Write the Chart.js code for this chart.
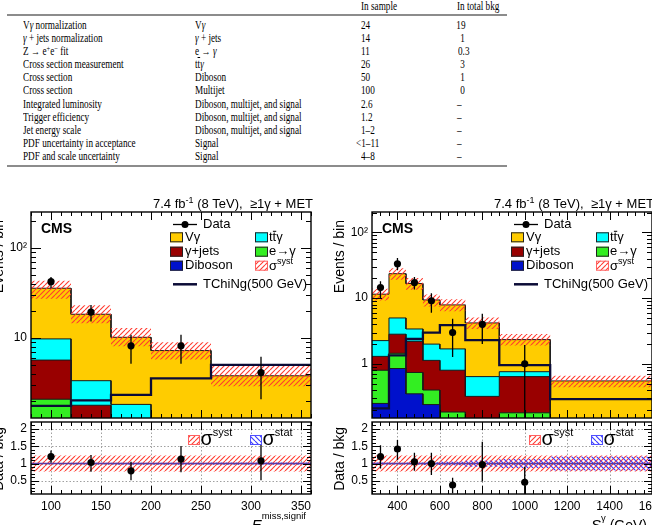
<!DOCTYPE html>
<html><head><meta charset="utf-8">
<script src="https://cdn.jsdelivr.net/npm/chart.js@4.4.1/dist/chart.umd.min.js"></script>
<style>
html,body{margin:0;padding:0;width:652px;height:525px;overflow:hidden;background:#fff;}
body{position:relative;}
canvas{position:absolute;}
#tbl{position:absolute;left:0;top:0;width:652px;height:175px;font-family:"Liberation Serif","Times New Roman",serif;font-size:11.5px;color:#000;}
.t{position:absolute;white-space:nowrap;line-height:13px;transform-origin:0 50%;transform:scaleX(0.8);}
.tr{position:absolute;white-space:nowrap;line-height:13px;transform-origin:100% 50%;transform:scaleX(0.8);text-align:right;}
.rule{position:absolute;left:7px;width:500px;height:1.5px;background:#8c8c8c;}
sup{font-size:8px;vertical-align:4px;line-height:0;}
.ol{text-decoration:overline;}
</style>
</head><body>
<div id="tbl"><div class="rule" style="top:14px"></div><div class="rule" style="top:165px"></div></div>
<canvas id="lm" width="372" height="237" style="left:-40px;top:185px"></canvas>
<canvas id="lr" width="372" height="109" style="left:-40px;top:416px"></canvas>
<canvas id="rm" width="372" height="237" style="left:301px;top:185px"></canvas>
<canvas id="rr" width="372" height="109" style="left:301px;top:416px"></canvas>
<script>
// ================= TABLE TEXT =================
const tableHeader = ['In sample', 'In total bkg'];
const tableSource = ['V<i>γ</i> normalization', '<i>γ</i> + jets normalization', 'Z → e<sup>+</sup>e<sup>−</sup> fit',
  'Cross section measurement', 'Cross section', 'Cross section', 'Integrated luminosity', 'Trigger efficiency',
  'Jet energy scale', 'PDF uncertainty in acceptance', 'PDF and scale uncertainty'];
const tableSample = ['V<i>γ</i>', '<i>γ</i> + jets', 'e → <i>γ</i>', 't<span class="ol">t</span><i>γ</i>', 'Diboson', 'Multijet',
  'Diboson, multijet, and signal', 'Diboson, multijet, and signal', 'Diboson, multijet, and signal', 'Signal', 'Signal'];
const tableInSample = ['24', '14', '11', '26', '50', '100', '2.6', '1.2', '1–2', '<1–11', '4–8'];
const tableInBkg = ['19', '1', '0.3', '3', '1', '0', '–', '–', '–', '–', '–'];

// ================= LEFT PANEL DATA (E_T^miss,signif) =================
const leftBinEdges = [80, 120, 160, 200, 260, 360];
const leftDiboson = [0.3, 0.2, 0.2, 0.15, 0.1];
const leftEtoG    = [1.8, 0.5, 0.3, 0.2, 0.1];
const leftGJets   = [3.6, 1.1, 0.5, 0.35, 0.3];
const leftTTG     = [4.1, 1.57, 0.84, 0.4, 0.3];
const leftVG      = [25.9, 15.0, 8.36, 6.17, 3.02];
const leftSystLo  = [27.3, 14.6, 8.1, 5.8, 2.93];
const leftSystHi  = [43.3, 23.1, 12.9, 9.0, 5.0];
const leftSignal  = [1.77, 2.04, 2.35, 3.57, 5.04];
const leftDataX   = [100, 140, 180, 230, 310];
const leftData    = [42.2, 19.4, 8.2, 8.2, 4.15];
const leftDataLo  = [35.7, 15.3, 5.2, 5.2, 2.1];
const leftDataHi  = [47.7, 23.3, 10.9, 10.9, 6.2];
const leftRatio   = [1.2, 1.03, 0.79, 1.13, 1.08];
const leftRatioLo = [1.02, 0.76, 0.52, 0.75, 0.52];
const leftRatioHi = [1.38, 1.25, 1.05, 1.51, 1.82];
const leftRatioSystLo = [0.77, 0.77, 0.77, 0.77, 0.77];
const leftRatioSystHi = [1.23, 1.23, 1.23, 1.23, 1.23];
const leftRatioStatLo = [0.985, 0.98, 0.975, 0.975, 0.97];
const leftRatioStatHi = [1.015, 1.02, 1.025, 1.025, 1.03];
const leftXTicks = [100, 150, 200, 250, 300, 350];
const leftMainYTicks = [10, 100];
const leftMainYLabels = ['10', '10²'];

// ================= RIGHT PANEL DATA (S_T^gamma) =================
const rightBinEdges = [280, 360, 440, 520, 600, 720, 880, 1120, 1600];
const rightDiboson = [0.25, 0.85, 0.35, 0.24, 0.10, 0.08, 0.08, 0.05];
const rightEtoG    = [0.55, 0.60, 0.39, 0.16, 0.085, 0.05, 0.10, 0.04];
const rightGJets   = [0.50, 1.38, 1.46, 0.73, 0.615, 0.19, 0.46, 0.03];
const rightTTG     = [0.96, 2.17, 1.20, 0.87, 0.89, 0.32, 0.12, 0.02];
const rightVG      = [9.24, 18.6, 13.3, 7.4, 6.21, 3.56, 1.58, 0.41];
const rightSystLo  = [9.2, 19.0, 13.4, 7.5, 6.3, 3.4, 1.9, 0.44];
const rightSystHi  = [13.9, 28.5, 20.2, 11.4, 9.6, 5.1, 2.85, 0.66];
const rightSignal  = [0.21, 1.35, 2.39, 3.0, 3.9, 2.3, 0.96, 0.29];
const rightDataX   = [320, 400, 480, 560, 660, 800, 1000];
const rightData    = [14.5, 33.3, 17.3, 9.1, 3.0, 4.0, 1.0];
const rightDataLo  = [10.0, 26.5, 13.6, 6.0, 1.27, 2.0, 0.1];
const rightDataHi  = [18.1, 40.9, 21.0, 11.9, 4.86, 5.8, 1.94];
const rightRatio   = [1.2, 1.42, 1.05, 1.0, 0.38, 0.97, 0.46];
const rightRatioLo = [0.86, 1.1, 0.79, 0.67, 0.14, 0.48, 0.05];
const rightRatioHi = [1.53, 1.68, 1.31, 1.31, 0.59, 1.63, 0.91];
const rightRatioSystLo = [0.77, 0.77, 0.77, 0.77, 0.77, 0.77, 0.77, 0.77];
const rightRatioSystHi = [1.23, 1.23, 1.23, 1.23, 1.23, 1.23, 1.23, 1.23];
const rightRatioStatLo = [0.97, 0.975, 0.97, 0.96, 0.94, 0.91, 0.87, 0.8];
const rightRatioStatHi = [1.03, 1.025, 1.03, 1.04, 1.06, 1.09, 1.13, 1.2];
const rightXTicks = [400, 600, 800, 1000, 1200, 1400, 1600];
const rightMainYTicks = [1, 10, 100];
const rightMainYLabels = ['1', '10', '10²'];

const ratioYTicks = [0.5, 1, 1.5, 2];
const ratioYLabels = ['0.5', '1', '1.5', '2'];

// ================= TABLE BUILD =================
(function () {
  const tb = document.getElementById('tbl');
  const add = (html, x, yc, cls) => {
    const d = document.createElement('div'); d.className = cls || 't'; d.innerHTML = html;
    d.style.top = (yc - 6.5) + 'px';
    if (cls === 'tr') { d.style.right = (652 - x) + 'px'; } else { d.style.left = x + 'px'; }
    tb.appendChild(d);
  };
  add(tableHeader[0], 361, 6.7); add(tableHeader[1], 457, 6.7);
  for (let i = 0; i < tableSource.length; i++) {
    const yc = 25 + i * 13.17;
    add(tableSource[i], 23, yc);
    add(tableSample[i], 195, yc);
    const s = tableInSample[i];
    add(s, s.startsWith('<') ? 356 : 361, yc);
    const b = tableInBkg[i];
    if (b.includes('.')) add(b, 458, yc);
    else if (b === '–') add(b, 457, yc);
    else add(b, 465, yc, 'tr');
  }
})();

// ================= CHART HELPERS =================
const FONT = '"Liberation Sans", Arial, Helvetica, sans-serif';
const C_VG = '#ffcc00', C_TT = '#00ffff', C_GJ = '#990000', C_EG = '#33ee22', C_DB = '#0011cc', C_SIG = '#0b0b36';

function hatch(color, dir) {
  const s = 5, c = document.createElement('canvas'); c.width = c.height = s;
  const g = c.getContext('2d');
  g.strokeStyle = color; g.lineWidth = 1.1;
  g.beginPath();
  for (const o of [-s, 0, s]) {
    if (dir > 0) { g.moveTo(o, s); g.lineTo(o + s, 0); } else { g.moveTo(o, 0); g.lineTo(o + s, s); }
  }
  g.stroke();
  return g.createPattern(c, 'repeat');
}
const HATCH_RED = hatch('#ff3b30', 1);
const HATCH_BLUE = hatch('#3a3aff', -1);

function histPts(edges, vals) {
  const p = [];
  for (let i = 0; i < vals.length; i++) p.push({x: edges[i], y: vals[i]}, {x: edges[i + 1], y: vals[i]});
  return p;
}
function bandPts(edges, lo, hi) { return histPts(edges, hi).concat(histPts(edges, lo).reverse()); }
function cumulative(...arrs) { return arrs[0].map((_, i) => arrs.reduce((s, a) => s + a[i], 0)); }
function errPts(xs, lo, hi) { const p = []; xs.forEach((x, i) => p.push({x, y: lo[i]}, {x, y: hi[i]}, {x, y: null})); return p; }
function range(a, b, st) { const r = []; for (let v = a; v <= b + 1e-9; v += st) r.push(+v.toFixed(6)); return r; }
function logTicks(min, max) {
  const maj = [], min_ = [];
  for (let e = -2; e <= 3; e++) for (let m = 1; m <= 9; m++) {
    const v = m * Math.pow(10, e);
    if (v < min || v > max) continue;
    (m === 1 ? maj : min_).push(v);
  }
  return [maj, min_];
}

function drawRich(ctx, parts, x, y, align) {
  let w = 0;
  for (const p of parts) { ctx.font = p.f; w += ctx.measureText(p.t).width; }
  let cx = align === 'right' ? x - w : x;
  ctx.textAlign = 'left'; ctx.textBaseline = 'alphabetic';
  for (const p of parts) { ctx.font = p.f; ctx.fillText(p.t, cx, y + (p.dy || 0)); cx += ctx.measureText(p.t).width; }
}

function decor(o) {
  return {
    id: 'decor',
    beforeDatasetsDraw(chart) {
      if (!o.grid) return;
      const {ctx, chartArea: a, scales: {x, y}} = chart;
      ctx.save(); ctx.strokeStyle = '#a0a0a0'; ctx.lineWidth = 1; ctx.setLineDash([1.5, 2]);
      for (const v of o.xMajor) {
        const p = Math.round(x.getPixelForValue(v)) + 0.5;
        if (p > a.left + 2 && p < a.right - 2) { ctx.beginPath(); ctx.moveTo(p, a.top); ctx.lineTo(p, a.bottom); ctx.stroke(); }
      }
      for (const v of o.yMajor) {
        const p = Math.round(y.getPixelForValue(v)) + 0.5;
        if (p > a.top + 2 && p < a.bottom - 2) { ctx.beginPath(); ctx.moveTo(a.left, p); ctx.lineTo(a.right, p); ctx.stroke(); }
      }
      ctx.restore();
    },
    afterDraw(chart) {
      const {ctx, chartArea: a, scales: {x, y}} = chart;
      ctx.save();
      ctx.strokeStyle = '#000'; ctx.lineWidth = 1; ctx.beginPath();
      const xt = (vals, len) => { for (const v of vals) { if (v < x.min || v > x.max) continue; const p = Math.round(x.getPixelForValue(v)) + 0.5; ctx.moveTo(p, a.bottom); ctx.lineTo(p, a.bottom - len); ctx.moveTo(p, a.top); ctx.lineTo(p, a.top + len); } };
      const yt = (vals, len) => { for (const v of vals) { if (v < y.min || v > y.max) continue; const p = Math.round(y.getPixelForValue(v)) + 0.5; ctx.moveTo(a.left, p); ctx.lineTo(a.left + len, p); ctx.moveTo(a.right, p); ctx.lineTo(a.right - len, p); } };
      xt(o.xMajor, o.xl[0]); xt(o.xMinor, o.xl[1]);
      yt(o.yMajor, o.yl[0]); yt(o.yMinor, o.yl[1]);
      ctx.stroke();
      ctx.lineWidth = 1.4;
      ctx.strokeRect(a.left, a.top, a.right - a.left, a.bottom - a.top);
      ctx.fillStyle = '#000';
      o.text(ctx, a);
      ctx.restore();
    }
  };
}

function yTitle(ctx, a, txt, topOff) {
  ctx.save();
  ctx.translate(a.left - 31.7, a.top + topOff);
  ctx.rotate(-Math.PI / 2);
  ctx.font = `14px ${FONT}`; ctx.textAlign = 'right'; ctx.textBaseline = 'middle'; ctx.fillStyle = '#000';
  ctx.fillText(txt, 0, 0);
  ctx.restore();
}

function mainText(ctx, a) {
  drawRich(ctx, [{t: '7.4 fb', f: `13px ${FONT}`}, {t: '-1', f: `9px ${FONT}`, dy: -5},
    {t: ' (8 TeV),  \u22651\u03b3 + MET', f: `13px ${FONT}`}], a.right + 2, a.top - 4, 'right');
  ctx.font = `bold 14px ${FONT}`; ctx.textAlign = 'left'; ctx.textBaseline = 'alphabetic';
  ctx.fillText('CMS', a.left + 10, a.top + 21);
  yTitle(ctx, a, 'Events / bin', 8);
  const L = a.left, T = a.top;
  ctx.font = `13px ${FONT}`; ctx.textBaseline = 'middle'; ctx.textAlign = 'left';
  // Data
  let yy = T + 12.5;
  ctx.lineWidth = 1.3; ctx.strokeStyle = '#000';
  ctx.beginPath(); ctx.moveTo(L + 142, yy); ctx.lineTo(L + 166, yy); ctx.stroke();
  ctx.beginPath(); ctx.arc(L + 154, yy, 3.5, 0, Math.PI * 2); ctx.fill();
  ctx.fillText('Data', L + 172, yy);
  const box = (bx, by, fill, stroke) => {
    ctx.fillStyle = fill; ctx.fillRect(bx, by - 5, 13, 10);
    ctx.strokeStyle = stroke; ctx.lineWidth = 1; ctx.strokeRect(bx + 0.5, by - 4.5, 12, 9);
    ctx.fillStyle = '#000';
  };
  const rows = [T + 25.3, T + 39.7, T + 53.7];
  box(L + 139, rows[0], C_VG, '#222'); ctx.fillText('V\u03b3', L + 154, rows[0]);
  box(L + 139, rows[1], C_GJ, '#222'); ctx.fillText('\u03b3+jets', L + 154, rows[1]);
  box(L + 139, rows[2], C_DB, '#222'); ctx.fillText('Diboson', L + 154, rows[2]);
  box(L + 224, rows[0], C_TT, '#222');
  ctx.fillText('tt\u03b3', L + 238, rows[0]);
  { const w1 = ctx.measureText('t').width, w2 = ctx.measureText('tt').width;
    ctx.fillRect(L + 238 + w1 + 0.3, rows[0] - 6.5, w2 - w1 - 0.3, 1); }
  box(L + 224, rows[1], C_EG, '#222'); ctx.fillText('e\u2192\u03b3', L + 238, rows[1]);
  ctx.fillStyle = '#fff'; ctx.fillRect(L + 224, rows[2] - 5, 13, 10);
  box(L + 224, rows[2], HATCH_RED, '#ff6060');
  ctx.textBaseline = 'middle'; ctx.font = `13px ${FONT}`; ctx.fillText('\u03c3', L + 238, rows[2] + 1);
  ctx.font = `9px ${FONT}`; ctx.fillText('syst', L + 246, rows[2] - 4);
  // signal
  yy = T + 72.3;
  ctx.strokeStyle = C_SIG; ctx.lineWidth = 2.5;
  ctx.beginPath(); ctx.moveTo(L + 142, yy); ctx.lineTo(L + 166, yy); ctx.stroke();
  ctx.font = `13px ${FONT}`; ctx.fillText('TChiNg(500 GeV)', L + 172, yy);
}

function ratioText(xTitleParts) {
  return (ctx, a) => {
    yTitle(ctx, a, 'Data / bkg', 5);
    const L = a.left, T = a.top;
    ctx.fillStyle = '#fff'; ctx.fillRect(L + 157, T + 13, 12, 10);
    ctx.fillStyle = HATCH_RED; ctx.fillRect(L + 157, T + 13, 12, 10);
    ctx.strokeStyle = '#ff6060'; ctx.lineWidth = 1; ctx.strokeRect(L + 157.5, T + 13.5, 11, 9);
    ctx.fillStyle = '#fff'; ctx.fillRect(L + 219, T + 13, 12, 10);
    ctx.fillStyle = HATCH_BLUE; ctx.fillRect(L + 219, T + 13, 12, 10);
    ctx.strokeStyle = '#5050ff'; ctx.strokeRect(L + 219.5, T + 13.5, 11, 9);
    ctx.fillStyle = '#000';
    drawRich(ctx, [{t: '\u03c3', f: `20px ${FONT}`}, {t: 'syst', f: `11px ${FONT}`, dy: -9}], L + 169.5, T + 23, 'left');
    drawRich(ctx, [{t: '\u03c3', f: `20px ${FONT}`}, {t: 'stat', f: `11px ${FONT}`, dy: -9}], L + 231.5, T + 23, 'left');
    drawRich(ctx, xTitleParts, a.right - 5, a.bottom + 36, 'right');
  };
}

function baseOpts(pad) {
  return {responsive: false, animation: false, devicePixelRatio: 1, events: [],
    layout: {padding: pad}, plugins: {legend: {display: false}, tooltip: {enabled: false}}};
}
const tickFont = {family: FONT, size: 12};
const fitY = s => { s.width = 71; s.paddingTop = 0; s.paddingBottom = 0; };
const fitX = s => { s.height = 31; s.paddingLeft = 0; s.paddingRight = 0; };

function buildMain(id, c) {
  const cumDB = c.db, cumEG = cumulative(c.db, c.eg), cumGJ = cumulative(c.db, c.eg, c.gj),
        cumTT = cumulative(c.db, c.eg, c.gj, c.tt), cumVG = cumulative(c.db, c.eg, c.gj, c.tt, c.vg);
  const area = (v, col) => ({data: histPts(c.edges, v), backgroundColor: col, borderColor: '#1a1a1a', borderWidth: 1, fill: 'start', pointRadius: 0, tension: 0});
  const [yMaj, yMin] = logTicks(c.ymin, c.ymax);
  const opts = baseOpts({left: 0, right: 21, top: 27, bottom: 0});
  opts.scales = {
    x: {type: 'linear', min: c.xmin, max: c.xmax, display: false},
    y: {type: 'logarithmic', min: c.ymin, max: c.ymax,
      afterFit: fitY,
      afterBuildTicks: s => { s.ticks = c.yTicks.map(v => ({value: v})); },
      ticks: {callback: v => { const i = c.yTicks.indexOf(v); return i >= 0 ? c.yLabels[i] : ''; }, font: tickFont, color: '#000', padding: 4, autoSkip: false},
      grid: {display: false, drawTicks: false}, border: {display: false}}
  };
  new Chart(document.getElementById(id), {
    type: 'line',
    data: {datasets: [
      {data: c.dataX.map((x, i) => ({x, y: c.data[i]})), showLine: false, pointRadius: 3.6, pointBackgroundColor: '#000', pointBorderWidth: 0},
      {data: errPts(c.dataX, c.dataLo, c.dataHi), borderColor: '#000', borderWidth: 1.3, pointRadius: 0, fill: false, spanGaps: false},
      {data: histPts(c.edges, c.sig), borderColor: C_SIG, borderWidth: 2.3, pointRadius: 0, fill: false},
      {data: bandPts(c.edges, c.systLo, c.systHi), backgroundColor: HATCH_RED, borderWidth: 0, borderColor: 'rgba(0,0,0,0)', fill: 'shape', pointRadius: 0},
      area(cumDB, C_DB), area(cumEG, C_EG), area(cumGJ, C_GJ), area(cumTT, C_TT), area(cumVG, C_VG)
    ]},
    options: opts,
    plugins: [decor({xMajor: c.xTicks, xMinor: c.xMinor, yMajor: yMaj, yMinor: yMin, xl: [8, 4], yl: [10, 5], text: mainText})]
  });
}

function buildRatio(id, c) {
  const opts = baseOpts({left: 0, right: 21, top: 6, bottom: 0});
  opts.scales = {
    x: {type: 'linear', min: c.xmin, max: c.xmax,
      afterFit: fitX,
      afterBuildTicks: s => { s.ticks = c.xTicks.map(v => ({value: v})); },
      ticks: {callback: v => String(v), font: tickFont, color: '#000', padding: 5, maxRotation: 0, autoSkip: false},
      grid: {display: false, drawTicks: false}, border: {display: false}},
    y: {type: 'linear', min: 0.12, max: 2.2,
      afterFit: fitY,
      afterBuildTicks: s => { s.ticks = ratioYTicks.map(v => ({value: v})); },
      ticks: {callback: v => { const i = ratioYTicks.indexOf(v); return i >= 0 ? ratioYLabels[i] : ''; }, font: tickFont, color: '#000', padding: 4, autoSkip: false},
      grid: {display: false, drawTicks: false}, border: {display: false}}
  };
  const e0 = c.edges[0], e1 = c.edges[c.edges.length - 1];
  new Chart(document.getElementById(id), {
    type: 'line',
    data: {datasets: [
      {data: c.dataX.map((x, i) => ({x, y: c.ratio[i]})), showLine: false, pointRadius: 3.6, pointBackgroundColor: '#000', pointBorderWidth: 0},
      {data: errPts(c.dataX, c.ratioLo, c.ratioHi), borderColor: '#000', borderWidth: 1.3, pointRadius: 0, fill: false, spanGaps: false},
      {data: [{x: e0, y: 1}, {x: e1, y: 1}], borderColor: '#5a3aa8', borderWidth: 1.6, pointRadius: 0, fill: false},
      {data: bandPts(c.edges, c.statLo, c.statHi), backgroundColor: HATCH_BLUE, borderWidth: 0, borderColor: 'rgba(0,0,0,0)', fill: 'shape', pointRadius: 0},
      {data: bandPts(c.edges, c.systLo, c.systHi), backgroundColor: HATCH_RED, borderWidth: 0, borderColor: 'rgba(0,0,0,0)', fill: 'shape', pointRadius: 0}
    ]},
    options: opts,
    plugins: [decor({grid: true, xMajor: c.xTicks, xMinor: c.xMinor, yMajor: ratioYTicks, yMinor: range(0.2, 2.1, 0.1), xl: [8, 4], yl: [8, 4], text: ratioText(c.xTitle)})]
  });
}

// ----- left -----
buildMain('lm', {edges: leftBinEdges, db: leftDiboson, eg: leftEtoG, gj: leftGJets, tt: leftTTG, vg: leftVG,
  systLo: leftSystLo, systHi: leftSystHi, sig: leftSignal, dataX: leftDataX, data: leftData, dataLo: leftDataLo, dataHi: leftDataHi,
  xmin: 80, xmax: 360, ymin: 1.3, ymax: 250, yTicks: leftMainYTicks, yLabels: leftMainYLabels,
  xTicks: leftXTicks, xMinor: range(80, 360, 10)});
buildRatio('lr', {edges: leftBinEdges, dataX: leftDataX, ratio: leftRatio, ratioLo: leftRatioLo, ratioHi: leftRatioHi,
  systLo: leftRatioSystLo, systHi: leftRatioSystHi, statLo: leftRatioStatLo, statHi: leftRatioStatHi,
  xmin: 80, xmax: 360, xTicks: leftXTicks, xMinor: range(80, 360, 10),
  xTitle: [{t: 'E', f: `italic 15px ${FONT}`}, {t: 'miss,signif', f: `9.5px ${FONT}`, dy: -11}]});
// ----- right -----
buildMain('rm', {edges: rightBinEdges, db: rightDiboson, eg: rightEtoG, gj: rightGJets, tt: rightTTG, vg: rightVG,
  systLo: rightSystLo, systHi: rightSystHi, sig: rightSignal, dataX: rightDataX, data: rightData, dataLo: rightDataLo, dataHi: rightDataHi,
  xmin: 280, xmax: 1600, ymin: 0.15, ymax: 205, yTicks: rightMainYTicks, yLabels: rightMainYLabels,
  xTicks: rightXTicks, xMinor: range(280, 1600, 40)});
buildRatio('rr', {edges: rightBinEdges, dataX: rightDataX, ratio: rightRatio, ratioLo: rightRatioLo, ratioHi: rightRatioHi,
  systLo: rightRatioSystLo, systHi: rightRatioSystHi, statLo: rightRatioStatLo, statHi: rightRatioStatHi,
  xmin: 280, xmax: 1600, xTicks: rightXTicks, xMinor: range(280, 1600, 40),
  xTitle: [{t: 'S', f: `italic 15px ${FONT}`}, {t: '\u03b3', f: `9.5px ${FONT}`, dy: -9}, {t: ' (GeV)', f: `14px ${FONT}`}]});
</script>
</body></html>
